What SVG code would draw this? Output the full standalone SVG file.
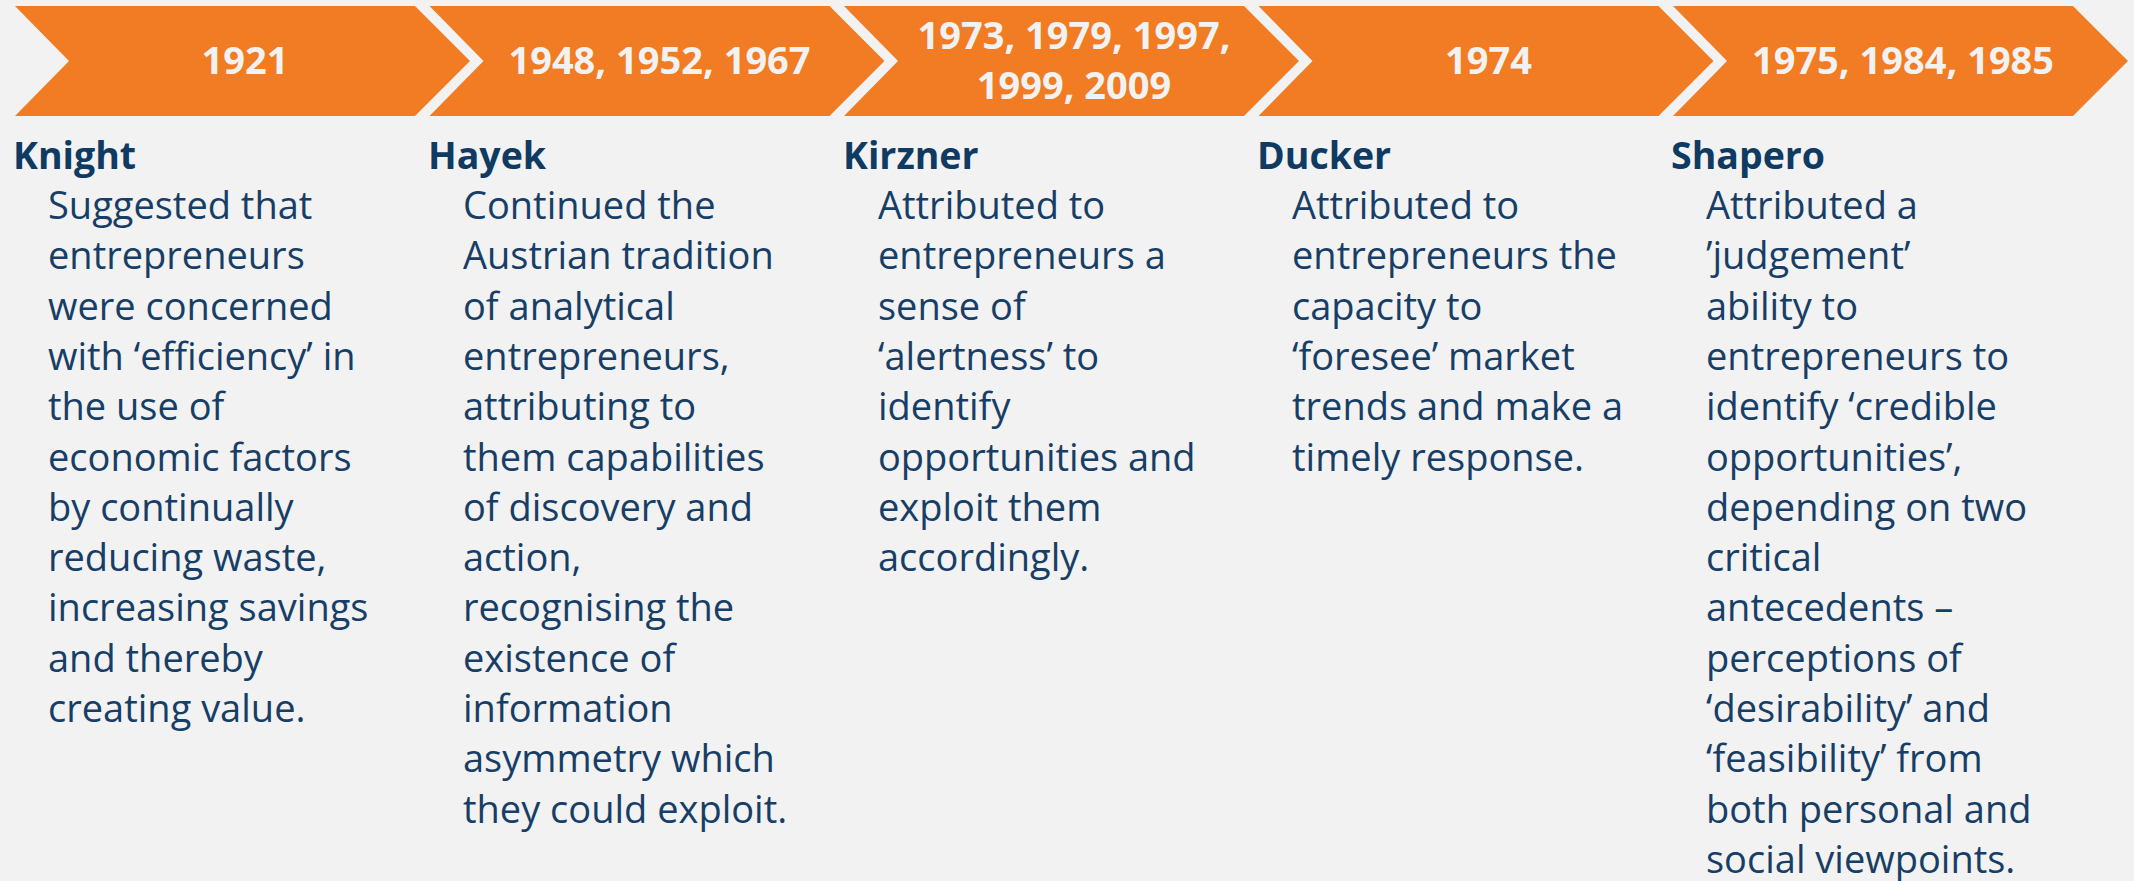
<svg xmlns="http://www.w3.org/2000/svg" width="2134" height="881" viewBox="0 0 2134 881">
<style>
.chev{fill:#F17C24}
.year{font-family:"Open Sans","Liberation Sans",sans-serif;font-weight:700;font-size:38px;fill:#F2F2F2;text-anchor:middle}
.head{font-family:"Open Sans","Liberation Sans",sans-serif;font-weight:700;font-size:37.5px;fill:#0F3A62}
.body{font-family:"Open Sans","Liberation Sans",sans-serif;font-size:38px;fill:#173E66}
</style>
<defs>
<polygon id="chevshape" points="0,6 400,6 455,61 400,116 0,116 54,61"/>
</defs>
<rect width="2134" height="881" fill="#F2F2F2"/>
<g id="knight">
<use href="#chevshape" class="chev" x="15"/>
<text class="year" x="245" y="74">1921</text>
<text class="head" x="13" y="169">Knight</text>
<text class="body" x="48" y="219"><tspan x="48">Suggested that</tspan><tspan x="48" dy="50.3">entrepreneurs</tspan><tspan x="48" dy="50.3">were concerned</tspan><tspan x="48" dy="50.3">with ‘efficiency’ in</tspan><tspan x="48" dy="50.3">the use of</tspan><tspan x="48" dy="50.3">economic factors</tspan><tspan x="48" dy="50.3">by continually</tspan><tspan x="48" dy="50.3">reducing waste,</tspan><tspan x="48" dy="50.3">increasing savings</tspan><tspan x="48" dy="50.3">and thereby</tspan><tspan x="48" dy="50.3">creating value.</tspan></text>
</g>
<g id="hayek">
<use href="#chevshape" class="chev" x="429.5"/>
<text class="year" x="659.5" y="74">1948, 1952, 1967</text>
<text class="head" x="428" y="169">Hayek</text>
<text class="body" x="463" y="219"><tspan x="463">Continued the</tspan><tspan x="463" dy="50.3">Austrian tradition</tspan><tspan x="463" dy="50.3">of analytical</tspan><tspan x="463" dy="50.3">entrepreneurs,</tspan><tspan x="463" dy="50.3">attributing to</tspan><tspan x="463" dy="50.3">them capabilities</tspan><tspan x="463" dy="50.3">of discovery and</tspan><tspan x="463" dy="50.3">action,</tspan><tspan x="463" dy="50.3">recognising the</tspan><tspan x="463" dy="50.3">existence of</tspan><tspan x="463" dy="50.3">information</tspan><tspan x="463" dy="50.3">asymmetry which</tspan><tspan x="463" dy="50.3">they could exploit.</tspan></text>
</g>
<g id="kirzner">
<use href="#chevshape" class="chev" x="844"/>
<text class="year" x="1074" y="49">1973, 1979, 1997,</text>
<text class="year" x="1074" y="99">1999, 2009</text>
<text class="head" x="843" y="169">Kirzner</text>
<text class="body" x="878" y="219"><tspan x="878">Attributed to</tspan><tspan x="878" dy="50.3">entrepreneurs a</tspan><tspan x="878" dy="50.3">sense of</tspan><tspan x="878" dy="50.3">‘alertness’ to</tspan><tspan x="878" dy="50.3">identify</tspan><tspan x="878" dy="50.3">opportunities and</tspan><tspan x="878" dy="50.3">exploit them</tspan><tspan x="878" dy="50.3">accordingly.</tspan></text>
</g>
<g id="ducker">
<use href="#chevshape" class="chev" x="1258.5"/>
<text class="year" x="1488.5" y="74">1974</text>
<text class="head" x="1257" y="169">Ducker</text>
<text class="body" x="1292" y="219"><tspan x="1292">Attributed to</tspan><tspan x="1292" dy="50.3">entrepreneurs the</tspan><tspan x="1292" dy="50.3">capacity to</tspan><tspan x="1292" dy="50.3">‘foresee’ market</tspan><tspan x="1292" dy="50.3">trends and make a</tspan><tspan x="1292" dy="50.3">timely response.</tspan></text>
</g>
<g id="shapero">
<use href="#chevshape" class="chev" x="1673"/>
<text class="year" x="1903" y="74">1975, 1984, 1985</text>
<text class="head" x="1671" y="169">Shapero</text>
<text class="body" x="1706" y="219"><tspan x="1706">Attributed a</tspan><tspan x="1706" dy="50.3">’judgement’</tspan><tspan x="1706" dy="50.3">ability to</tspan><tspan x="1706" dy="50.3">entrepreneurs to</tspan><tspan x="1706" dy="50.3">identify ‘credible</tspan><tspan x="1706" dy="50.3">opportunities’,</tspan><tspan x="1706" dy="50.3">depending on two</tspan><tspan x="1706" dy="50.3">critical</tspan><tspan x="1706" dy="50.3">antecedents –</tspan><tspan x="1706" dy="50.3">perceptions of</tspan><tspan x="1706" dy="50.3">‘desirability’ and</tspan><tspan x="1706" dy="50.3">‘feasibility’ from</tspan><tspan x="1706" dy="50.3">both personal and</tspan><tspan x="1706" dy="50.3">social viewpoints.</tspan></text>
</g>
<g id="connectors"/>
</svg>
